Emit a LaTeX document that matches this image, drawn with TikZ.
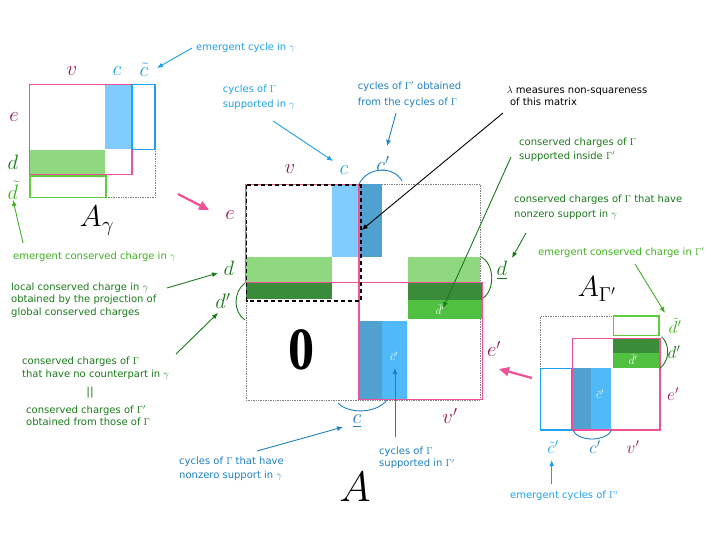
\documentclass[tikz,border=0pt]{standalone}
\usepackage{amsmath, amssymb}
\usepackage{xcolor}
\usepackage[no-math]{fontspec}
\setmainfont{DejaVu Sans}
\newfontfamily\zerofont{Liberation Serif}
\usepackage{tikz}
\usetikzlibrary{arrows.meta}

\definecolor{pinkline}{RGB}{240,80,150}
\definecolor{vcol}{RGB}{150,25,85}
\definecolor{cyclight}{RGB}{128,204,255}
\definecolor{cycmid}{RGB}{80,186,248}
\definecolor{cycdark}{RGB}{80,160,208}
\definecolor{cycline}{RGB}{30,160,240}
\definecolor{cyctext}{RGB}{30,160,230}
\definecolor{cycdtext}{RGB}{30,128,192}
\definecolor{chglight}{RGB}{144,216,128}
\definecolor{chgmid}{RGB}{80,192,64}
\definecolor{chgdark}{RGB}{58,140,58}
\definecolor{chgline}{RGB}{96,204,64}
\definecolor{chgtext}{RGB}{26,122,26}
\definecolor{chgltext}{RGB}{64,176,32}

\begin{document}
\begin{tikzpicture}[x=1pt, y=-1pt]
        \tikzset{lbl/.style={font=\fontsize{20}{20}\selectfont, inner sep=0pt}}
        \tikzset{smlbl/.style={font=\fontsize{17}{17}\selectfont, inner sep=0pt}}
        \tikzset{inlbl/.style={font=\fontsize{12}{12}\selectfont, text=white, inner sep=0pt}}
        \tikzset{bigname/.style={font=\fontsize{20}{20}\selectfont, inner sep=0pt}}
        \tikzset{note/.style={font=\fontsize{10}{12.5}\selectfont, align=left, anchor=west, inner sep=0pt}}
        \tikzset{pinkbox/.style={draw=pinkline, line width=1.3pt}}
        \tikzset{cycbox/.style={draw=cycline, line width=1.1pt}}
        \tikzset{chgbox/.style={draw=chgline, line width=1.1pt}}
        \tikzset{dotbox/.style={draw=gray, densely dotted, line width=0.7pt}}
        \tikzset{pointer/.style={-{Latex[length=6pt, width=5pt]}, line width=0.9pt}}

        \useasboundingbox (0,0) rectangle (711,534);

        \draw[dotbox] (155,149.3) -- (155,197.7) -- (106,197.7);
        \fill[cyclight] (105,84.3) rectangle (131,149.3);
        \fill[chglight] (30,149.7) rectangle (105,174.3);
        \draw[pinkbox] (29.3,84.3) rectangle (132,174.3);
        \draw[cycbox] (132.7,84.3) rectangle (155,149.3);
        \draw[chgbox] (30,176) rectangle (106,197.7);

        \node[lbl, text=vcol] (vA) at (72,71) {$v$};
        \node[lbl, text=cyctext] (cA) at (117,71) {$c$};
        \node[lbl, text=cyctext] (ctA) at (144,70) {$\tilde{c}$};
        \node[lbl, text=vcol] (eA) at (14,117) {$e$};
        \node[lbl, text=chgtext] (dA) at (13,162) {$d$};
        \node[lbl, text=chgltext] (dtA) at (13,190) {$\tilde{d}$};
        \node[bigname] (Agam) at (97,221) {\scalebox{1.45}{$A_\gamma$}};

        \draw[dotbox] (246,184) rectangle (480,400);
        \fill[cyclight] (331.7,184.3) rectangle (359,256.7);
        \fill[cycdark] (359,184.3) rectangle (381.7,256.7);
        \fill[chglight] (246,257.3) rectangle (332.3,282.3);
        \fill[chgdark] (246,282.3) rectangle (332.3,299.3);
        \fill[chglight] (407.7,257.3) rectangle (480,282.3);
        \fill[chgdark] (407.7,282.3) rectangle (482.3,300);
        \fill[chgmid] (407.7,300) rectangle (482.3,319.3);
        \fill[cycdark] (360,321) rectangle (381.7,399.3);
        \fill[cycmid] (381.7,321) rectangle (406.7,399.3);
        \draw[pinkbox] (245.7,184.3) rectangle (359,282.3);
        \draw[pinkbox] (359,282.3) rectangle (482.3,399.3);
        \draw[line width=1.6pt, dash pattern=on 4pt off 3pt] (246.5,185) rectangle (360.7,300.7);

        \draw[cycdtext, line width=0.9pt] (359,184) .. controls (368,166) and (394,166) .. (402,181);
        \draw[cycdtext, line width=0.9pt] (338,403) .. controls (348,414) and (376,414) .. (387,400);
        \draw[chgtext, line width=0.9pt] (245,283) .. controls (233,292) and (233,312) .. (245,320);
        \draw[chgtext, line width=0.9pt] (480.7,256.7) .. controls (495,264) and (495,290) .. (483,298);

        \node[lbl, text=vcol] (vM) at (290,169) {$v$};
        \node[lbl, text=cyctext] (cM) at (344,170) {$c$};
        \node[lbl, text=cycdtext] (cpM) at (383,164) {$c'$};
        \node[lbl, text=vcol] (eM) at (230,215) {$e$};
        \node[lbl, text=chgtext] (dM) at (229,268) {$d$};
        \node[lbl, text=chgtext] (dpM) at (223,301) {$d'$};
        \node[lbl, text=chgtext] (duM) at (502,270) {$\underline{d}$};
        \node[lbl, text=cycdtext] (cuM) at (357,421) {$\underline{c}$};
        \node[lbl, text=vcol] (epM) at (494,349) {$e'$};
        \node[lbl, text=vcol] (vpM) at (450,416) {$v'$};
        \node[inlbl] (dbM) at (440,310) {$\bar{d}'$};
        \node[inlbl] (cbM) at (394,356) {$\bar{c}'$};
        \node[font=\fontsize{60}{60}\zerofont\bfseries, inner sep=0pt] (zero) at (302,350) {\scalebox{0.87}[1]{0}};
        \node[bigname] (Abig) at (355,487) {\scalebox{2.05}{$A$}};

        \draw[dotbox] (540.7,368.3) -- (540.7,316) -- (613.3,316);
        \fill[chgdark] (613.3,338.3) rectangle (660,352.7);
        \fill[chgmid] (613.3,352.7) rectangle (660,367.7);
        \fill[cycdark] (573.3,368.3) rectangle (590.7,430);
        \fill[cycmid] (590.7,368.3) rectangle (611,430);
        \draw[pinkbox] (572.7,338.3) rectangle (660,430);
        \draw[chgbox] (613.3,316) rectangle (659,335.7);
        \draw[cycbox] (540.7,368.3) rectangle (571.7,430);
        \draw[chgtext, line width=0.9pt] (661.7,336.7) .. controls (670,345) and (670,360) .. (660,368.3);
        \draw[cycdtext, line width=0.9pt] (572.7,430) .. controls (578,442) and (606,442) .. (611.7,430);

        \node[smlbl, text=chgltext] (dtR) at (675,326) {$\tilde{d}'$};
        \node[smlbl, text=chgtext] (dpR) at (674,352) {$d'$};
        \node[smlbl, text=vcol] (epR) at (673,394) {$e'$};
        \node[smlbl, text=cyctext] (ctR) at (553,447) {$\tilde{c}'$};
        \node[smlbl, text=cycdtext] (cpR) at (595,447) {$c'$};
        \node[smlbl, text=vcol] (vpR) at (633,447) {$v'$};
        \node[inlbl] (dbR) at (633,360) {$\bar{d}'$};
        \node[inlbl] (cbR) at (600,394) {$\bar{c}'$};
        \node[bigname] (AGam) at (597,289) {\scalebox{1.4}{$A_{\Gamma'}$}};

        \node[note, text=cyctext] (emcyc) at (196,48) {emergent cycle in $\gamma$};
        \node[note, text=cyctext] (suppg) at (222.7,97) {cycles of $\Gamma$\\[3pt]supported in $\gamma$};
        \node[note, text=cycdtext] (fromG) at (357.7,94.5) {cycles of $\Gamma'$ obtained\\[3pt]from the cycles of $\Gamma$};
        \node[note] (lambda) at (506.7,96.3) {$\lambda$ measures non-squareness\\\ of this matrix};
        \node[note, text=chgtext] (inside) at (519,149.5) {conserved charges of $\Gamma$\\[2pt]supported inside $\Gamma'$};
        \node[note, text=chgtext] (nzchg) at (514,207) {conserved charges of $\Gamma$ that have\\[2pt]nonzero support in $\gamma$};
        \node[note, text=chgltext] (emchgR) at (538,252.7) {emergent conserved charge in $\Gamma'$};
        \node[note, text=chgltext] (emchgL) at (13,257) {emergent conserved charge in $\gamma$};
        \node[note, text=chgtext] (local) at (11,300) {local conserved charge in $\gamma$\\obtained by the projection of\\global conserved charges};
        \node[note, text=chgtext] (nocp) at (22,368) {conserved charges of $\Gamma$\\that have no counterpart in $\gamma$};
        \node[font=\fontsize{11}{11}\selectfont, text=chgtext, inner sep=0pt] (eqbars) at (90,393) {||};
        \node[note, text=chgtext] (fromthose) at (26,416) {conserved charges of $\Gamma'$\\obtained from those of $\Gamma$};
        \node[note, text=cycdtext] (nzcyc) at (179,468.7) {cycles of $\Gamma$ that have\\[2pt]nonzero support in $\gamma$};
        \node[note, text=cycdtext] (suppGp) at (379,457.7) {cycles of $\Gamma$\\supported in $\Gamma'$};
        \node[note, text=cyctext] (emcycR) at (510,496) {emergent cycles of $\Gamma'$};

        \coordinate (p1) at (192,48);    \coordinate (q1) at (157,68);
        \coordinate (p2) at (273,121);   \coordinate (q2) at (333,161);
        \coordinate (p3) at (396,113);   \coordinate (q3) at (387,146);
        \coordinate (p4) at (503,113);   \coordinate (q4) at (361.7,230);
        \coordinate (p5) at (511,157);   \coordinate (q5) at (443,308);
        \coordinate (p6) at (526,233);   \coordinate (q6) at (512,258);
        \coordinate (p7) at (635,264);   \coordinate (q7) at (665,313);
        \coordinate (p8) at (23,243);    \coordinate (q8) at (13,200);
        \coordinate (p9) at (167,288);   \coordinate (q9) at (218,273);
        \coordinate (p10) at (176,354);  \coordinate (q10) at (218,313);
        \coordinate (p11) at (257,451);  \coordinate (q11) at (343,427);
        \coordinate (p12) at (395,437);  \coordinate (q12) at (395,368);
        \coordinate (p13) at (551.7,484); \coordinate (q13) at (551.7,460);
        \coordinate (p14) at (178,194);  \coordinate (q14) at (209,210);
        \coordinate (p15) at (532,378);  \coordinate (q15) at (499,369);

        \draw[pointer, cyctext] (p1) -- (q1);
        \draw[pointer, cyctext] (p2) -- (q2);
        \draw[pointer, cycdtext] (p3) -- (q3);
        \draw[pointer, black] (p4) -- (q4);
        \draw[pointer, chgtext] (p5) -- (q5);
        \draw[pointer, chgtext] (p6) -- (q6);
        \draw[pointer, chgltext] (p7) -- (q7);
        \draw[pointer, chgltext] (p8) -- (q8);
        \draw[pointer, chgtext] (p9) -- (q9);
        \draw[pointer, chgtext] (p10) -- (q10);
        \draw[pointer, cycdtext] (p11) -- (q11);
        \draw[pointer, cycdtext] (p12) -- (q12);
        \draw[pointer, cyctext] (p13) -- (q13);
        \draw[-{Triangle[length=10pt, width=9pt]}, pinkline, line width=2.2pt] (p14) -- (q14);
        \draw[-{Triangle[length=10pt, width=9pt]}, pinkline, line width=2.2pt] (p15) -- (q15);

    \end{tikzpicture}
\end{document}
